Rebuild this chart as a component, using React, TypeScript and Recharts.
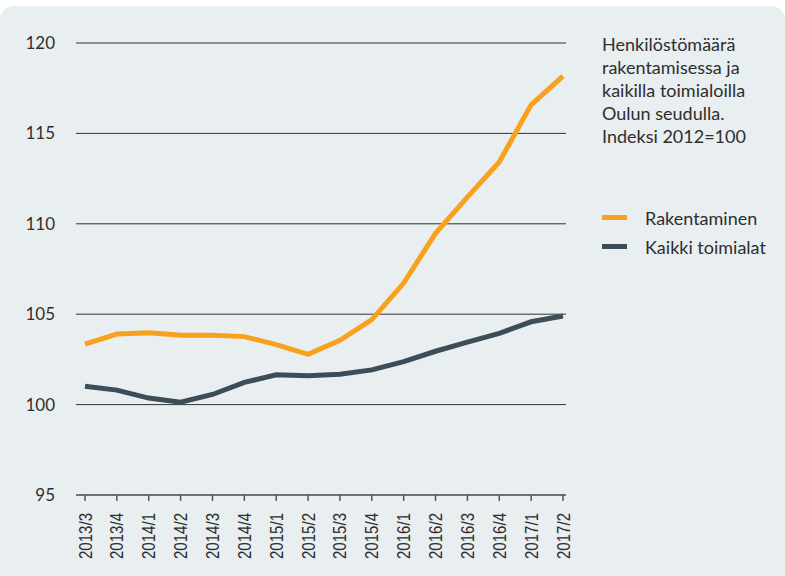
import React from 'react';
import { LineChart, Line, XAxis, YAxis, CartesianGrid } from 'recharts';

const categories = ['2013/3', '2013/4', '2014/1', '2014/2', '2014/3', '2014/4', '2015/1', '2015/2', '2015/3', '2015/4', '2016/1', '2016/2', '2016/3', '2016/4', '2017/1', '2017/2'];
const rakentaminen = [103.35, 103.9, 103.98, 103.83, 103.83, 103.76, 103.32, 102.78, 103.56, 104.7, 106.72, 109.47, 111.48, 113.42, 116.58, 118.17];
const kaikkiToimialat = [101.02, 100.8, 100.36, 100.13, 100.56, 101.23, 101.65, 101.6, 101.68, 101.92, 102.38, 102.95, 103.46, 103.94, 104.58, 104.9];
const yTicks = [95, 100, 105, 110, 115, 120];
const titleLines = ['Henkilöstömäärä', 'rakentamisessa ja', 'kaikilla toimialoilla', 'Oulun seudulla.', 'Indeksi 2012=100'];
const seriesNames = ['Rakentaminen', 'Kaikki toimialat'];

const ORANGE = '#f8a11d';
const SLATE = '#3b4e58';
const TEXT = '#2e2e2e';
const FONT = 'Lato, "Noto Sans", sans-serif';

const data = categories.map((c, i) => ({ cat: c, rak: rakentaminen[i], kaikki: kaikkiToimialat[i] }));

const XTick = (props: any) => {
  const { x, y, payload } = props;
  return (
    <text
      transform={`translate(${x + 6.5},${y}) rotate(-90)`}
      textAnchor="end"
      fontFamily='"Liberation Sans Narrow", "Arial Narrow", sans-serif'
      fontSize={18}
      textLength={46}
      lengthAdjust="spacingAndGlyphs"
      fill={TEXT}
    >
      {payload.value}
    </text>
  );
};

const YTick = (props: any) => {
  const { x, y, payload } = props;
  return (
    <text x={x} y={y} dy={6} textAnchor="end" fontFamily={FONT} fontSize={17} fill={TEXT}>
      {payload.value}
    </text>
  );
};

export default function App() {
  const colors = [ORANGE, SLATE];
  return (
    <div style={{ position: 'absolute', left: 0, top: 0, width: 785, height: 576, overflow: 'hidden', background: '#ffffff' }}>
      <div style={{ position: 'absolute', left: 0, top: 6, width: 785, height: 590, background: '#e9eef1', borderRadius: 14 }} />
      <div style={{ position: 'absolute', left: 0, top: 0 }}>
        <LineChart width={785} height={576} data={data} margin={{ top: 43, right: 219, bottom: 11, left: 0 }}>
          <CartesianGrid horizontal vertical={false} stroke="#333" strokeWidth={1} />
          <XAxis
            dataKey="cat"
            interval={0}
            height={70}
            padding={{ left: 9, right: 3 }}
            tickSize={6}
            tickMargin={12}
            tickLine={{ stroke: '#555', strokeWidth: 1.5 }}
            axisLine={{ stroke: '#666', strokeWidth: 1.5 }}
            tick={<XTick />}
          />
          <YAxis
            domain={[95, 120]}
            ticks={yTicks}
            width={76}
            axisLine={false}
            tickLine={false}
            tickSize={4}
            tickMargin={17}
            tick={<YTick />}
          />
          <Line type="linear" dataKey="kaikki" stroke={SLATE} strokeWidth={5} dot={false} isAnimationActive={false} />
          <Line type="linear" dataKey="rak" stroke={ORANGE} strokeWidth={5} dot={false} isAnimationActive={false} />
        </LineChart>
      </div>
      <div style={{ position: 'absolute', left: 602, top: 33, fontFamily: FONT, fontSize: 18, lineHeight: '23px', color: TEXT }}>
        {titleLines.map((t) => (
          <div key={t}>{t}</div>
        ))}
      </div>
      <div style={{ position: 'absolute', left: 602, top: 203, fontFamily: FONT, fontSize: 18, color: TEXT }}>
        {seriesNames.map((n, i) => (
          <div key={n} style={{ display: 'flex', alignItems: 'center', height: 29 }}>
            <div style={{ width: 25, height: 5, background: colors[i], marginRight: 18 }} />
            <span>{n}</span>
          </div>
        ))}
      </div>
    </div>
  );
}
